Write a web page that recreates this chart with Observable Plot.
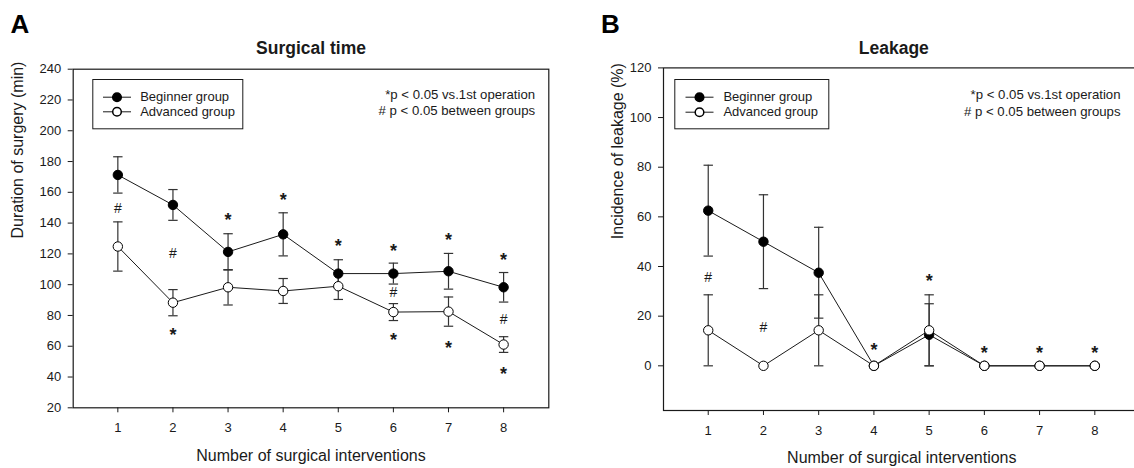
<!DOCTYPE html>
<html><head><meta charset="utf-8">
<script src="https://cdn.jsdelivr.net/npm/d3@7"></script>
<script src="https://cdn.jsdelivr.net/npm/@observablehq/plot@0.6"></script>
<style>
html,body{margin:0;padding:0;background:#fff;overflow:hidden;width:1134px;height:468px}
#wrap{position:relative;width:1134px;height:468px;overflow:hidden;background:#fff}
#a{position:absolute;left:0;top:0;width:567px}
#b{position:absolute;left:567px;top:0;width:600px}
#wrap svg{max-width:none !important;display:block}
</style></head>
<body><div id="wrap"><div id="a"></div><div id="b"></div></div>
<script>
// ---- data ----
const interventions = [1, 2, 3, 4, 5, 6, 7, 8];
const xTickLabels = ["1", "2", "3", "4", "5", "6", "7", "8"];

const timeBeginnerMean = [171.3, 151.8, 121.3, 132.7, 107.2, 107.2, 108.7, 98.3];
const timeBeginnerErr  = [11.8, 10.0, 11.8, 14.0, 9.0, 6.8, 11.6, 9.6];
const timeAdvancedMean = [124.8, 88.3, 98.3, 95.9, 99.0, 82.2, 82.5, 61.1];
const timeAdvancedErr  = [16.0, 8.5, 11.5, 8.1, 8.6, 5.5, 9.5, 5.1];
const timeYTicks = [20, 40, 60, 80, 100, 120, 140, 160, 180, 200, 220, 240];
const timeStarX = [2, 3, 4, 5, 6, 6, 7, 7, 8, 8];
const timeStarY = [70.1, 144.6, 157.6, 127.8, 125, 66.8, 132.2, 61.6, 119, 44.6];
const timeHashX = [1, 2, 6, 8];
const timeHashY = [149.8, 120, 94.6, 77.2];

const leakBeginnerMean = [62.5, 50, 37.5, 0, 12.5, 0, 0, 0];
const leakBeginnerErr  = [18.3, 18.9, 18.3, 0, 12.5, 0, 0, 0];
const leakAdvancedMean = [14.3, 0, 14.3, 0, 14.3, 0, 0, 0];
const leakAdvancedErr  = [14.3, 0, 14.3, 0, 14.3, 0, 0, 0];
const leakYTicks = [0, 20, 40, 60, 80, 100, 120];
const leakStarX = [4, 5, 6, 7, 8];
const leakStarY = [8.2, 36, 7.1, 7.1, 7.1];
const leakHashX = [1, 2];
const leakHashY = [35.5, 15.6];

const groupNames = ["Beginner group", "Advanced group"];
const noteLines = ["*p < 0.05 vs.1st operation", "# p < 0.05 between groups"];

// ---- helpers ----
const capSymbol = {draw(ctx, size) { const r = Math.sqrt(size / Math.PI); ctx.moveTo(-r, 0); ctx.lineTo(r, 0); }};
const rows = (means, errs) => interventions.map((x, i) => ({x, y: means[i], e: errs[i]}));
const pts = (xs, ys) => xs.map((x, i) => ({x, y: ys[i]}));
const INK = "#1a1a1a";

function panel(cfg) {
  const beg = rows(cfg.begMean, cfg.begErr);
  const adv = rows(cfg.advMean, cfg.advErr);
  const bars = [...beg, ...adv].filter(d => d.e > 0);
  const L = cfg.legend;
  return Plot.plot({
    width: cfg.width, height: 468,
    marginLeft: cfg.ml, marginRight: cfg.mr, marginTop: cfg.mt, marginBottom: cfg.mb,
    style: {fontFamily: "'Liberation Sans', Arial, sans-serif", fontSize: "13px", color: INK, background: "#fff"},
    x: {domain: [0.19, 8.82], ticks: interventions, tickFormat: (d, i) => xTickLabels[i], tickSize: 5, tickPadding: 10, label: null},
    y: {domain: cfg.ydomain, ticks: cfg.yticks, tickSize: 5, tickPadding: 7, label: null},
    marks: [
      Plot.frame({stroke: INK, strokeWidth: 1.2}),
      Plot.ruleX(bars, {x: "x", y1: d => d.y - d.e, y2: d => d.y + d.e, stroke: "#333", strokeWidth: 1.2}),
      Plot.dot(bars, {x: "x", y: d => d.y + d.e, symbol: capSymbol, r: 4.7, stroke: "#333", strokeWidth: 1.2}),
      Plot.dot(bars, {x: "x", y: d => d.y - d.e, symbol: capSymbol, r: 4.7, stroke: "#333", strokeWidth: 1.2}),
      Plot.line(beg, {x: "x", y: "y", stroke: INK, strokeWidth: 1}),
      Plot.line(adv, {x: "x", y: "y", stroke: INK, strokeWidth: 1}),
      Plot.dot(beg, {x: "x", y: "y", r: 4.7, fill: "#000", stroke: "#000", strokeWidth: 1}),
      Plot.dot(adv, {x: "x", y: "y", r: 4.7, fill: "#fff", stroke: "#000", strokeWidth: 1}),
      Plot.text(cfg.stars, {x: "x", y: "y", text: () => "*", fontSize: 18, fontWeight: "bold", dy: 4.7, fill: INK}),
      Plot.text(cfg.hashes, {x: "x", y: "y", text: () => "#", fontSize: 14, fill: INK}),
      // legend
      Plot.frame({insetLeft: L.boxL, insetTop: L.boxT, insetRight: L.boxR, insetBottom: L.boxB, stroke: INK, strokeWidth: 1}),
      Plot.dot([0], {frameAnchor: "top-left", dx: L.mx, dy: L.r1, r: 14, symbol: capSymbol, stroke: INK, strokeWidth: 1}),
      Plot.dot([0], {frameAnchor: "top-left", dx: L.mx, dy: L.r2, r: 14, symbol: capSymbol, stroke: INK, strokeWidth: 1}),
      Plot.dot([0], {frameAnchor: "top-left", dx: L.mx, dy: L.r1, r: 4.3, fill: "#000", stroke: "#000"}),
      Plot.dot([0], {frameAnchor: "top-left", dx: L.mx, dy: L.r2, r: 4.3, fill: "#fff", stroke: "#000"}),
      Plot.text([groupNames[0]], {frameAnchor: "top-left", dx: L.tx, dy: L.r1, textAnchor: "start", lineAnchor: "middle", fontSize: 13, fill: INK}),
      Plot.text([groupNames[1]], {frameAnchor: "top-left", dx: L.tx, dy: L.r2, textAnchor: "start", lineAnchor: "middle", fontSize: 13, fill: INK}),
      // notes
      Plot.text([noteLines[0]], {frameAnchor: "top-right", dx: cfg.note.dx, dy: cfg.note.r1, textAnchor: "end", lineAnchor: "middle", fontSize: 13.2, fill: INK}),
      Plot.text([noteLines[1]], {frameAnchor: "top-right", dx: cfg.note.dx, dy: cfg.note.r2, textAnchor: "end", lineAnchor: "middle", fontSize: 13.2, fill: INK}),
      // titles and labels
      Plot.text([cfg.title], {frameAnchor: "top", dx: cfg.titleDx, dy: cfg.titleDy, lineAnchor: "middle", fontSize: 17.5, fontWeight: "bold", fill: INK}),
      Plot.text([cfg.letter], {frameAnchor: "top-left", dx: cfg.letterDx, dy: cfg.letterDy, textAnchor: "start", lineAnchor: "middle", fontSize: 26, fontWeight: "bold", fill: "#000"}),
      Plot.text([cfg.xlabel], {frameAnchor: "bottom", dy: cfg.xlabelDy, lineAnchor: "middle", fontSize: 16, fill: INK}),
      Plot.text([cfg.ylabel], {frameAnchor: "left", rotate: -90, dx: cfg.ylabelDx, lineAnchor: "middle", fontSize: 16, fill: INK})
    ]
  });
}

document.getElementById("a").append(panel({
  width: 567, ml: 72.7, mr: 18.7, mt: 68.7, mb: 60.7,
  ydomain: [20, 240], yticks: timeYTicks,
  begMean: timeBeginnerMean, begErr: timeBeginnerErr,
  advMean: timeAdvancedMean, advErr: timeAdvancedErr,
  stars: pts(timeStarX, timeStarY), hashes: pts(timeHashX, timeHashY),
  legend: {boxL: 19.6, boxT: 10.3, boxR: 306, boxB: 279, mx: 43.8, r1: 28, r2: 42.6, tx: 67},
  note: {dx: -13.7, r1: 25.6, r2: 41.3},
  title: "Surgical time", titleDx: 0, titleDy: -21,
  letter: "A", letterDx: -62.7, letterDy: -44.7,
  xlabel: "Number of surgical interventions", xlabelDy: 47.7,
  ylabel: "Duration of surgery (min)", ylabelDx: -55.4
}));

document.getElementById("b").append(panel({
  width: 590, ml: 96, mr: 17.4, mt: 67.4, mb: 58,
  ydomain: [-18, 120], yticks: leakYTicks,
  begMean: leakBeginnerMean, begErr: leakBeginnerErr,
  advMean: leakAdvancedMean, advErr: leakAdvancedErr,
  stars: pts(leakStarX, leakStarY), hashes: pts(leakHashX, leakHashY),
  legend: {boxL: 11.3, boxT: 11.6, boxR: 311.3, boxB: 281.7, mx: 36, r1: 29.3, r2: 44.3, tx: 59.9},
  note: {dx: -19.6, r1: 26.6, r2: 43.6},
  title: "Leakage", titleDx: -8, titleDy: -19.7,
  letter: "B", letterDx: -62.4, letterDy: -43.4,
  xlabel: "Number of surgical interventions", xlabelDy: 47.3,
  ylabel: "Incidence of leakage (%)", ylabelDx: -46
}));
</script>
</body></html>
